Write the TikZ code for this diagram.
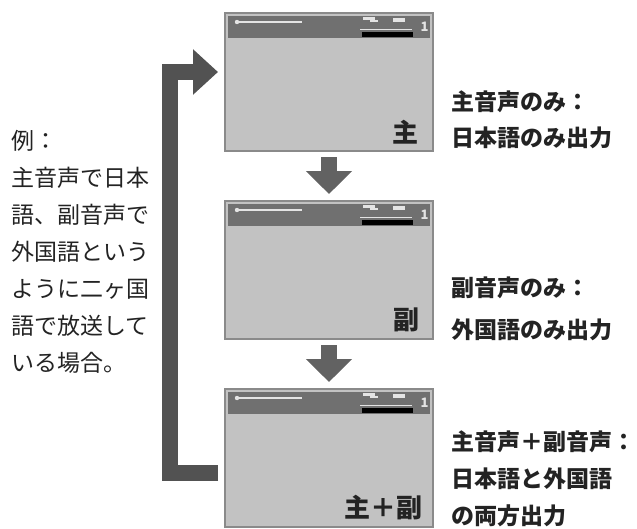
\documentclass[tikz,border=0pt]{standalone}
\usepackage{fontspec}
\setmainfont{Noto Sans CJK JP}
\usetikzlibrary{positioning,arrows.meta}
\definecolor{scrfill}{RGB}{194,194,194}
\definecolor{scrline}{RGB}{138,138,138}
\definecolor{hdrgray}{RGB}{112,112,112}
\definecolor{hdrlight}{RGB}{228,228,228}
\definecolor{arrgray}{RGB}{98,98,98}
\definecolor{loopgray}{RGB}{82,82,82}
\definecolor{inkgray}{RGB}{35,35,35}

\begin{document}
\begin{tikzpicture}[x=1pt, y=-1pt,
    node distance = 50pt,
    screen/.style = {draw=scrline, line width=1.5pt, fill=scrfill,
                     minimum width=208pt, minimum height=138pt,
                     inner sep=0pt, outer sep=0pt},
    scrlabel/.style = {anchor=south east, inner sep=0pt, text=inkgray,
                       font=\fontsize{26}{30}\selectfont\bfseries},
    modetext/.style = {anchor=west, align=left, inner sep=0pt, text=inkgray,
                       font=\fontsize{23}{37}\selectfont\bfseries},
    downarr/.style = {arrgray, line width=16pt,
                      -{Triangle[width=45pt,length=23pt]},
                      shorten <=6pt, shorten >=7pt},
    looparr/.style = {loopgray, line width=16pt, line join=miter,
                      -{Triangle[width=44pt,length=25pt]}, shorten >=7pt},
  ]
  \useasboundingbox (0,0) rectangle (637,528);

  % the three screens
  \node[screen] (scr1) at (329,82) {};
  \node[screen, below=of scr1] (scr2) {};
  \node[screen, below=of scr2] (scr3) {};

  % status bar on top of each screen
  \foreach \s in {scr1,scr2,scr3} {
    \begin{scope}[shift={(\s.north west)}]
      \fill[hdrgray] (3,3) rectangle (205,25);
      \draw[hdrlight, line width=1.8pt] (12,9) -- (77,9);
      \fill[hdrlight] (12,9) circle (2.2);
      \fill[hdrlight] (138,3.5) rectangle (150,6.5);
      \fill[hdrlight] (145,6.5) rectangle (153,8.5);
      \fill[hdrlight] (168,5) rectangle (180,8.5);
      \draw[hdrlight, line width=1.8pt] (135,16.5) -- (187,16.5);
      \fill[black] (137,19) rectangle (188,24);
      \node[inner sep=0pt, text=hdrlight, font=\fontsize{13}{13}\selectfont\bfseries]
        (\s-ch) at (199.5,14) {1};
    \end{scope}
  }

  \node[scrlabel] (lab-main) at ([shift={(-14pt,7pt)}]scr1.south east) {主};
  \node[scrlabel] (lab-sub)  at ([shift={(-13pt,7pt)}]scr2.south east) {副};
  \node[scrlabel] (lab-both) at ([shift={(-10pt,7pt)}]scr3.south east) {主＋副};

  % output modes
  \node[modetext, font=\fontsize{23}{36}\selectfont\bfseries] (mode1) at (451,120)
    {主音声のみ：\\日本語のみ出力};
  \node[modetext, font=\fontsize{23}{42}\selectfont\bfseries] (mode2) at (451,309)
    {副音声のみ：\\外国語のみ出力};
  \node[modetext, font=\fontsize{23}{37}\selectfont\bfseries] (mode3) at (451,479)
    {主音声＋副音声：\\日本語と外国語\\の両方出力};

  % example note
  \node[anchor=west, align=left, inner sep=0pt, text=inkgray,
        font=\fontsize{23}{37}\selectfont] (note) at (11,252)
    {例：\\主音声で日本\\語、副音声で\\外国語という\\ように二ヶ国\\語で放送して\\いる場合。};

  % switching arrows
  \draw[downarr] (scr1) -- (scr2);
  \draw[downarr] (scr2) -- (scr3);
  \coordinate (loopx) at (170,300);
  \draw[looparr] ([shift={(-7pt,-15pt)}]scr3.west) -| (loopx)
    |- ([yshift=10pt]scr1.west);
\end{tikzpicture}
\end{document}
